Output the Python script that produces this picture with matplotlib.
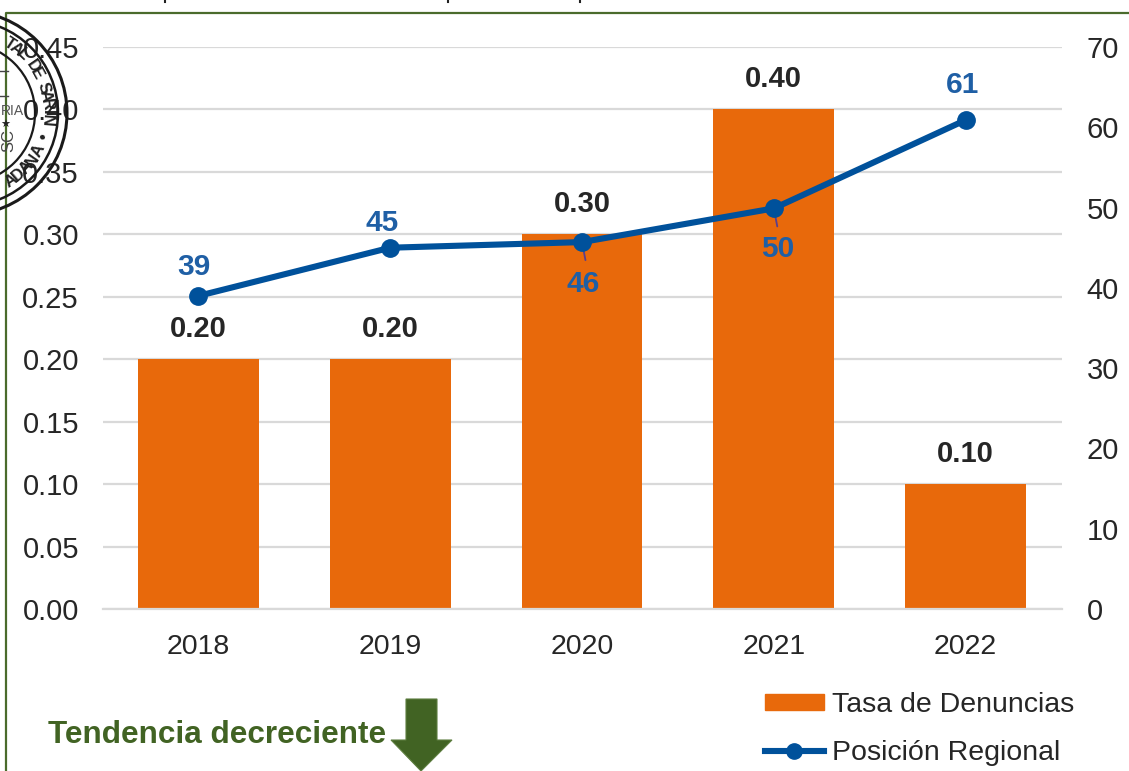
import numpy as np
import matplotlib
matplotlib.use("Agg")
import matplotlib.pyplot as plt
from matplotlib.patches import Circle, Polygon, Patch
from matplotlib.lines import Line2D

plt.rcParams['font.family'] = ['Liberation Sans', 'DejaVu Sans']

years = ["2018", "2019", "2020", "2021", "2022"]
tasa = [0.20, 0.20, 0.30, 0.40, 0.10]
posicion = [39.0, 45.0, 45.7, 49.9, 60.9]
posicion_labels = ["39", "45", "46", "50", "61"]
tasa_ticks = [0.00, 0.05, 0.10, 0.15, 0.20, 0.25, 0.30, 0.35, 0.40, 0.45]
pos_ticks = [0, 10, 20, 30, 40, 50, 60, 70]

W, H = 1129, 771
ORANGE = "#e8690b"
BLUE = "#00519b"
LABEL_BLUE = "#1f5fa5"
GREEN = "#416323"
GRIS = "#262626"

fig = plt.figure(figsize=(W / 100, H / 100), dpi=100)

# plot area in pixels
left, right, top, bottom = 102.5, 1061.5, 47, 609
ax = fig.add_axes([left / W, 1 - bottom / H, (right - left) / W, (bottom - top) / H])
x = np.arange(len(years))
ax.bar(x, tasa, width=0.63, color=ORANGE, zorder=2)
ax.set_xlim(-0.5, 4.5)
ax.set_ylim(0, 0.45)
ax.set_yticks(tasa_ticks)
ax.set_yticklabels(["%.2f" % t for t in tasa_ticks])
ax.set_xticks(x)
ax.set_xticklabels(years)
ax.tick_params(axis='y', length=0, labelsize=21, labelcolor=GRIS, pad=17)
ax.tick_params(axis='x', length=0, labelsize=20.5, labelcolor=GRIS, pad=18)
ax.grid(axis='y', color="#d9d9d9", lw=1.6, zorder=1)
ax.set_axisbelow(True)
for s in ax.spines.values():
    s.set_visible(False)
ax.spines['bottom'].set_visible(True)
ax.spines['bottom'].set_color("#d9d9d9")
ax.spines['bottom'].set_linewidth(1.6)

for i, v in enumerate(tasa):
    ax.annotate("%.2f" % v, (x[i], v), xytext=(0, 22), textcoords='offset points',
                ha='center', va='center', fontsize=21, fontweight='bold', color=GRIS)

ax2 = ax.twinx()
ax2.plot(x, posicion, color=BLUE, lw=4.4, marker='o', ms=12.5, zorder=5)
ax2.set_ylim(0, 70)
ax2.set_yticks(pos_ticks)
ax2.tick_params(axis='y', length=0, labelsize=21, labelcolor=GRIS, pad=18)
for s in ax2.spines.values():
    s.set_visible(False)

# labels above or below the line, offsets in points
offsets = [(-3, 21), (-6, 18), (1, -30), (3, -29), (-2, 25)]
for i, v in enumerate(posicion):
    ax2.annotate(posicion_labels[i], (x[i], v), xytext=offsets[i], textcoords='offset points',
                 ha='center', va='center', fontsize=21.5, fontweight='bold', color=LABEL_BLUE)

# short leader lines on the two labels under the line
for i in [2, 3]:
    ax2.annotate("", (x[i], posicion[i]), xytext=(2.5, -13), textcoords='offset points',
                 arrowprops=dict(arrowstyle='-', color="#5b3f8c", lw=1.3, shrinkA=0, shrinkB=0))

# overlay in pixel coordinates for the frame, seal and arrow
ov = fig.add_axes([0, 0, 1, 1], facecolor='none')
ov.set_xlim(0, W)
ov.set_ylim(H, 0)
ov.axis('off')

ov.plot([6, 6, W], [H, 13, 13], color="#4a6b2c", lw=1.6)

# bits of the cropped line of text above the frame
for px in [165, 448, 580]:
    ov.plot([px, px], [0, 2], color="#222222", lw=1.5)

cx, cy = -35, 113
for r, lw in [(102, 2.2), (93, 1.8), (70, 1.6)]:
    ov.add_patch(Circle((cx, cy), r, fill=False, ec="#1a1a1a", lw=lw, zorder=6))
ov.plot([0, 8], [71, 71], color="#444444", lw=1, zorder=6)
ov.plot([0, 8], [96, 96], color="#444444", lw=1, zorder=6)
ov.text(0.5, 111, "RIA", fontsize=10, color="#555555", ha='left', va='center', zorder=6)
ov.text(5, 125, "★", fontsize=8, color="#222222", ha='center', va='center', zorder=6)
ov.text(9, 141, "SC", fontsize=12, color="#444444", rotation=90, ha='center', va='center', zorder=6)

# seal ring text, one glyph at a time along the arc
seal_top = "TAL DE SARIN"
angles_top = np.linspace(-57, 5, len(seal_top))
for ch, a in zip(seal_top, angles_top):
    t = np.radians(a)
    ov.text(cx + 82 * np.cos(t), cy + 82 * np.sin(t), ch, rotation=-a - 90, rotation_mode='anchor',
            ha='center', va='center', fontsize=12, fontweight='bold', color="#222222", zorder=6)
seal_bot = "ADANA•"
angles_bot = [56, 49, 42, 35, 27, 17]
for ch, a in zip(seal_bot, angles_bot):
    t = np.radians(a)
    ov.text(cx + 82 * np.cos(t), cy + 82 * np.sin(t), ch, rotation=-a + 90, rotation_mode='anchor',
            ha='center', va='center', fontsize=12, fontweight='bold', color="#222222", zorder=6)

ov.text(48, 735, "Tendencia decreciente", fontsize=22.7, fontweight='bold', color=GREEN,
        ha='left', va='center')
ov.add_patch(Polygon([(406, 699), (437, 699), (437, 740), (452, 740), (421, 771),
                      (391, 740), (406, 740)], closed=True, fc=GREEN, ec="#5d7d3f", lw=0.8))

handles = [Patch(color=ORANGE, label="Tasa de Denuncias"),
           Line2D([], [], color=BLUE, lw=4.4, marker='o', ms=11, label="Posición Regional")]
leg = ov.legend(handles=handles, loc='upper left', bbox_to_anchor=(765 / W, 1 - 692 / H),
                frameon=False, fontsize=20.5, labelcolor=GRIS, handlelength=2.07, handleheight=0.45,
                handletextpad=0.28, labelspacing=0.78, borderpad=0, borderaxespad=0)

fig.savefig("out.png", dpi=100)
